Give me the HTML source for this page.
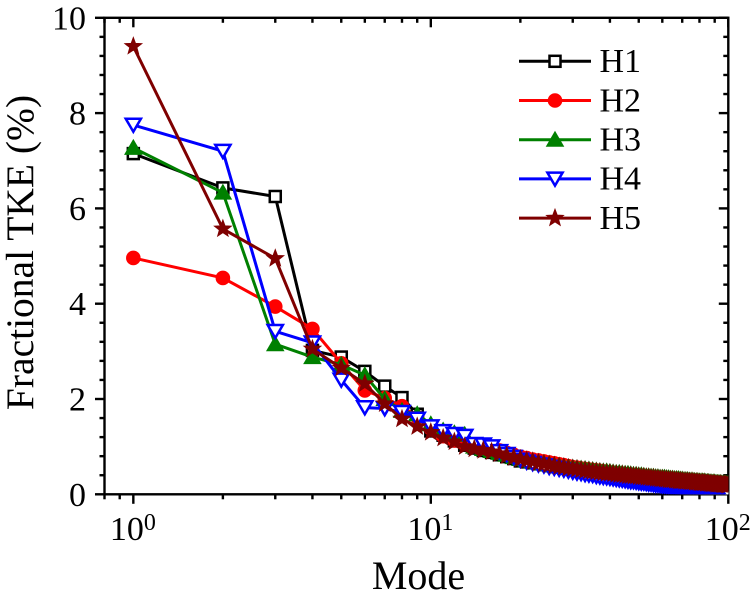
<!DOCTYPE html>
<html lang="en">
<head>
<meta charset="utf-8">
<title>Fractional TKE by Mode</title>
<style>
  html, body { margin: 0; padding: 0; background: #ffffff; }
  body { width: 751px; height: 602px; overflow: hidden; }
  svg { display: block; }
  text { font-family: "Liberation Serif", serif; fill: #000; }
</style>
</head>
<body>
<svg id="chart" xmlns="http://www.w3.org/2000/svg" width="751" height="602" viewBox="0 0 751 602"></svg>
<script>
const xMajorTicks = [1, 10, 100];
const xMajorExponents = [0, 1, 2];
const xMinorTicks = [0.8, 0.9, 2, 3, 4, 5, 6, 7, 8, 9, 20, 30, 40, 50, 60, 70, 80, 90];
const yMajorTicks = [0, 2, 4, 6, 8, 10];
const yMinorTicks = [0.4, 0.8, 1.2, 1.6, 2.4, 2.8, 3.2, 3.6, 4.4, 4.8, 5.2, 5.6, 6.4, 6.8, 7.2, 7.6, 8.4, 8.8, 9.2, 9.6];
const seriesNames = ['H1', 'H2', 'H3', 'H4', 'H5'];
const modes = [
  1,2,3,4,5,6,7,8,9,10,11,12,13,14,15,16,17,18,19,20,
  21,22,23,24,25,26,27,28,29,30,31,32,33,34,35,36,37,38,39,40,
  41,42,43,44,45,46,47,48,49,50,51,52,53,54,55,56,57,58,59,60,
  61,62,63,64,65,66,67,68,69,70,71,72,73,74,75,76,77,78,79,80,
  81,82,83,84,85,86,87,88,89,90,91,92,93,94,95,96,97,98,99,100
];
const h1Values = [
  7.15,6.43,6.25,3.02,2.88,2.58,2.27,2.03,1.68,1.33,
  1.24,1.12,1.03,0.97,0.92,0.88,0.83,0.79,0.75,0.70,
  0.68,0.66,0.64,0.62,0.60,0.58,0.57,0.55,0.54,0.53,
  0.51,0.50,0.49,0.48,0.47,0.46,0.45,0.44,0.43,0.42,
  0.42,0.41,0.40,0.39,0.39,0.38,0.37,0.37,0.36,0.35,
  0.35,0.34,0.34,0.33,0.33,0.32,0.32,0.31,0.31,0.30,
  0.30,0.29,0.29,0.29,0.28,0.28,0.27,0.27,0.27,0.26,
  0.26,0.26,0.25,0.25,0.25,0.24,0.24,0.24,0.24,0.23,
  0.23,0.23,0.23,0.22,0.22,0.22,0.22,0.21,0.21,0.21,
  0.21,0.20,0.20,0.20,0.20,0.19,0.19,0.19,0.19,0.18
];
const h2Values = [
  4.96,4.54,3.94,3.47,2.75,2.18,2.02,1.85,1.62,1.38,
  1.22,1.13,1.06,1.03,1.00,0.97,0.92,0.87,0.83,0.79,
  0.76,0.73,0.71,0.69,0.67,0.65,0.63,0.61,0.59,0.57,
  0.56,0.54,0.53,0.52,0.51,0.50,0.49,0.48,0.47,0.46,
  0.45,0.44,0.44,0.43,0.42,0.41,0.41,0.40,0.39,0.39,
  0.38,0.37,0.37,0.36,0.36,0.35,0.35,0.34,0.34,0.33,
  0.33,0.32,0.32,0.31,0.31,0.30,0.30,0.29,0.29,0.29,
  0.28,0.28,0.27,0.27,0.27,0.26,0.26,0.26,0.25,0.25,
  0.25,0.24,0.24,0.24,0.23,0.23,0.23,0.23,0.22,0.22,
  0.22,0.22,0.21,0.21,0.21,0.21,0.20,0.20,0.20,0.20
];
const h3Values = [
  7.27,6.33,3.15,2.88,2.72,2.50,2.00,1.75,1.68,1.47,
  1.34,1.28,1.25,1.00,0.95,0.91,0.87,0.83,0.78,0.74,
  0.71,0.69,0.67,0.65,0.63,0.61,0.60,0.58,0.57,0.56,
  0.55,0.54,0.53,0.52,0.51,0.50,0.49,0.48,0.48,0.47,
  0.46,0.45,0.45,0.44,0.43,0.43,0.42,0.41,0.41,0.40,
  0.40,0.39,0.38,0.38,0.37,0.37,0.36,0.36,0.35,0.35,
  0.35,0.34,0.34,0.33,0.33,0.32,0.32,0.32,0.31,0.31,
  0.30,0.30,0.30,0.29,0.29,0.29,0.28,0.28,0.28,0.27,
  0.27,0.27,0.27,0.26,0.26,0.26,0.25,0.25,0.25,0.25,
  0.24,0.24,0.24,0.24,0.23,0.23,0.23,0.23,0.22,0.22
];
const h4Values = [
  7.75,7.20,3.42,3.18,2.40,1.82,1.80,1.72,1.58,1.42,
  1.32,1.26,1.22,1.05,1.04,1.00,0.90,0.84,0.78,0.72,
  0.68,0.65,0.62,0.60,0.57,0.55,0.53,0.51,0.49,0.47,
  0.45,0.44,0.42,0.41,0.40,0.38,0.37,0.36,0.35,0.34,
  0.33,0.32,0.31,0.30,0.29,0.28,0.27,0.27,0.26,0.25,
  0.24,0.24,0.23,0.22,0.22,0.21,0.20,0.20,0.19,0.18,
  0.18,0.17,0.17,0.16,0.15,0.15,0.14,0.14,0.13,0.13,
  0.12,0.12,0.11,0.11,0.10,0.10,0.09,0.09,0.08,0.08,
  0.08,0.07,0.07,0.06,0.06,0.06,0.05,0.05,0.05,0.04,
  0.04,0.04,0.03,0.03,0.03,0.03,0.02,0.02,0.02,0.02
];
const h5Values = [
  9.40,5.57,4.95,3.05,2.65,2.32,1.90,1.58,1.42,1.30,
  1.18,1.10,1.00,0.95,0.92,0.89,0.85,0.81,0.77,0.74,
  0.71,0.69,0.66,0.64,0.62,0.60,0.58,0.57,0.55,0.54,
  0.53,0.51,0.50,0.49,0.48,0.47,0.46,0.45,0.44,0.44,
  0.43,0.42,0.41,0.41,0.40,0.39,0.39,0.38,0.38,0.37,
  0.36,0.36,0.35,0.35,0.34,0.34,0.33,0.33,0.32,0.32,
  0.31,0.31,0.30,0.30,0.30,0.29,0.29,0.28,0.28,0.28,
  0.27,0.27,0.27,0.26,0.26,0.26,0.25,0.25,0.25,0.24,
  0.24,0.24,0.24,0.23,0.23,0.23,0.22,0.22,0.22,0.22,
  0.21,0.21,0.21,0.21,0.20,0.20,0.20,0.20,0.19,0.19
];

const NS = 'http://www.w3.org/2000/svg';
const svg = document.getElementById('chart');
const left = 104.5, right = 728.3, top_ = 17.8, bottom = 494.3;
const xLogMin = Math.log10(0.8), xLogMax = 2;
function xScale(v) { return left + (Math.log10(v) - xLogMin) / (xLogMax - xLogMin) * (right - left); }
function yScale(v) { return bottom - v / 10 * (bottom - top_); }

function make(tag, attrs, parent) {
  const el = document.createElementNS(NS, tag);
  for (const k in attrs) el.setAttribute(k, attrs[k]);
  (parent || svg).appendChild(el);
  return el;
}

const defs = make('defs', {});
const clip = make('clipPath', { id: 'plot-clip' }, defs);
make('rect', { x: left, y: top_, width: right - left, height: bottom - top_ }, clip);

const axisWidth = 2.4;
const majorLen = 9.5, minorLen = 5;

function tick(x1, y1, x2, y2, name) {
  const t = make('line', { x1: x1, y1: y1, x2: x2, y2: y2, stroke: '#000', 'stroke-width': axisWidth });
  
  
}

const axes = make('g', {});



xMajorTicks.forEach(function (v) {
  const x = xScale(v);
  tick(x, bottom, x, bottom + majorLen, 'x-major-tick');
  tick(x, top_, x, top_ + majorLen, 'x-top-major-tick');
});
xMinorTicks.forEach(function (v) {
  const x = xScale(v);
  tick(x, bottom, x, bottom + minorLen, 'x-minor-tick');
  tick(x, top_, x, top_ + minorLen, 'x-top-minor-tick');
});
yMajorTicks.forEach(function (v) {
  const y = yScale(v);
  tick(left, y, left - majorLen, y, 'y-major-tick');
  tick(right, y, right - majorLen, y, 'y-right-major-tick');
});
yMinorTicks.forEach(function (v) {
  const y = yScale(v);
  tick(left, y, left - minorLen, y, 'y-minor-tick');
  tick(right, y, right - minorLen, y, 'y-right-minor-tick');
});

const frame = make('rect', { x: left, y: top_, width: right - left, height: bottom - top_, fill: 'none', stroke: '#000', 'stroke-width': axisWidth });



yMajorTicks.forEach(function (v) {
  const t = make('text', { x: 86, y: yScale(v) + 11.5, 'text-anchor': 'end', 'font-size': 34 });
  t.textContent = String(v);
  
  
});
xMajorTicks.forEach(function (v, i) {
  const t = make('text', { x: xScale(v) - 23.5, y: 540, 'font-size': 34 });
  t.textContent = '10';
  
  
  const s = make('tspan', { 'font-size': 24, dy: -10 }, t);
  s.textContent = String(xMajorExponents[i]);
});

const xTitle = make('text', { x: 418.5, y: 589, 'text-anchor': 'middle', 'font-size': 40 });
xTitle.textContent = 'Mode';



const yTitle = make('text', { x: 0, y: 0, 'text-anchor': 'middle', 'font-size': 39.5, transform: 'translate(33 252.5) rotate(-90)' });
yTitle.textContent = 'Fractional TKE (%)';



function starPoints(cx, cy, R) {
  const pts = [];
  const r = R * 0.42;
  for (let i = 0; i < 10; i++) {
    const a = -Math.PI / 2 + i * Math.PI / 5;
    const q = i % 2 ? r : R;
    pts.push((cx + q * Math.cos(a)).toFixed(2) + ',' + (cy + q * Math.sin(a)).toFixed(2));
  }
  return pts.join(' ');
}

function drawMarker(parent, kind, cx, cy, color) {
  let m;
  if (kind === 'square') {
    m = make('rect', { x: cx - 5.5, y: cy - 5.5, width: 11, height: 11, fill: '#fff', stroke: color, 'stroke-width': 2.5 }, parent);
  } else if (kind === 'circle') {
    m = make('circle', { cx: cx, cy: cy, r: 7.3, fill: color }, parent);
  } else if (kind === 'up') {
    m = make('polygon', { points: (cx - 9.3) + ',' + (cy + 7) + ' ' + (cx + 9.3) + ',' + (cy + 7) + ' ' + cx + ',' + (cy - 9), fill: color }, parent);
  } else if (kind === 'down') {
    m = make('polygon', { points: (cx - 7.6) + ',' + (cy - 6.3) + ' ' + (cx + 7.6) + ',' + (cy - 6.3) + ' ' + cx + ',' + (cy + 6.7), fill: '#fff', stroke: color, 'stroke-width': 2.5 }, parent);
  } else {
    m = make('polygon', { points: starPoints(cx, cy, 8.8), fill: color, stroke: color, 'stroke-width': 1 }, parent);
  }
  return m;
}

const seriesValues = [h1Values, h2Values, h3Values, h4Values, h5Values];
const seriesColors = ['#000000', '#ff0000', '#008000', '#0000ff', '#7f0000'];
const seriesKinds = ['square', 'circle', 'up', 'down', 'star'];
const plotArea = make('g', { 'clip-path': 'url(#plot-clip)' });



seriesNames.forEach(function (name, s) {
  const g = make('g', {}, plotArea);
  
  
  const pts = seriesValues[s].map(function (v, i) {
    return xScale(modes[i]).toFixed(2) + ',' + yScale(v).toFixed(2);
  }).join(' ');
  const line = make('polyline', { points: pts, fill: 'none', stroke: seriesColors[s], 'stroke-width': 3, 'stroke-linejoin': 'round' }, g);
  
  
  seriesValues[s].forEach(function (v, i) {
    const m = drawMarker(g, seriesKinds[s], xScale(modes[i]), yScale(v), seriesColors[s]);
    
    
  });
});

const legend = make('g', {});


seriesNames.forEach(function (name, s) {
  const y = 61.3 + s * 39.2;
  const g = make('g', {}, legend);
  
  
  make('line', { x1: 519, y1: y, x2: 591, y2: y, stroke: seriesColors[s], 'stroke-width': 3 }, g);
  drawMarker(g, seriesKinds[s], 555, y, seriesColors[s]);
  const t = make('text', { x: 599.5, y: y + 10.8, 'font-size': 34 }, g);
  t.textContent = name;
  
  
});
</script>
</body>
</html>
